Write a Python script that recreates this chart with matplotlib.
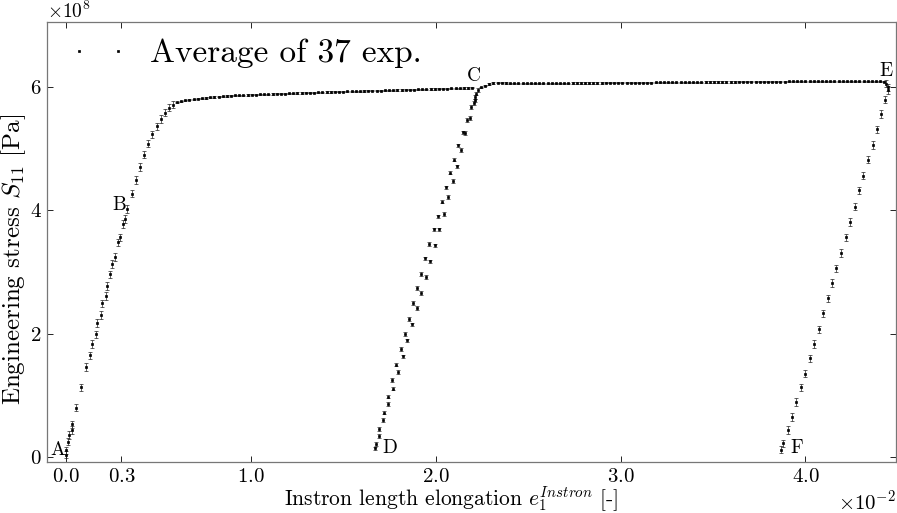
import matplotlib
matplotlib.use("Agg")
import matplotlib.pyplot as plt
from matplotlib.lines import Line2D
from matplotlib.ticker import ScalarFormatter

# strain in units of 1e-2, stress in units of 1e8 Pa
load_x = [0.000, 0.000, 0.012, 0.016, 0.031, 0.034, 0.054, 0.081, 0.108, 0.130,
          0.139, 0.162, 0.170, 0.188, 0.193, 0.215, 0.220, 0.240, 0.247, 0.265,
          0.283, 0.292, 0.310, 0.319, 0.332, 0.355, 0.379, 0.400, 0.424, 0.445,
          0.467, 0.491, 0.514, 0.536, 0.559, 0.581]
load_y = [0.04, 0.11, 0.25, 0.36, 0.44, 0.53, 0.80, 1.13, 1.46, 1.65,
          1.83, 1.99, 2.17, 2.30, 2.49, 2.61, 2.77, 2.96, 3.13, 3.24,
          3.48, 3.56, 3.78, 3.86, 4.02, 4.27, 4.49, 4.70, 4.90, 5.08,
          5.23, 5.36, 5.48, 5.58, 5.66, 5.71]

plat1_x = [0.600, 0.622, 0.645, 0.667, 0.690, 0.712, 0.735, 0.757, 0.780, 0.802,
           0.825, 0.847, 0.870, 0.892, 0.915, 0.937, 0.960, 0.982, 1.005, 1.027,
           1.050, 1.072, 1.095, 1.117, 1.140, 1.162, 1.185, 1.207, 1.230, 1.252,
           1.275, 1.297, 1.320, 1.342, 1.365, 1.387, 1.410, 1.432, 1.455, 1.477,
           1.500, 1.522, 1.545, 1.567, 1.590, 1.612, 1.635, 1.657, 1.680, 1.702,
           1.725, 1.747, 1.770, 1.792, 1.815, 1.837, 1.860, 1.882, 1.905, 1.927,
           1.950, 1.972, 1.995, 2.017, 2.040, 2.062, 2.085, 2.107, 2.130, 2.152,
           2.175, 2.197]
plat1_y = [5.75, 5.765, 5.78, 5.79, 5.80, 5.81, 5.815, 5.82, 5.83, 5.835,
           5.84, 5.845, 5.85, 5.855, 5.86, 5.862, 5.865, 5.868, 5.87, 5.873,
           5.876, 5.878, 5.88, 5.883, 5.886, 5.888, 5.89, 5.893, 5.896, 5.898,
           5.90, 5.902, 5.905, 5.907, 5.91, 5.912, 5.914, 5.916, 5.918, 5.92,
           5.922, 5.924, 5.926, 5.928, 5.93, 5.932, 5.934, 5.936, 5.938, 5.94,
           5.942, 5.944, 5.946, 5.948, 5.95, 5.952, 5.954, 5.956, 5.958, 5.96,
           5.962, 5.964, 5.966, 5.968, 5.97, 5.972, 5.974, 5.976, 5.978, 5.98,
           5.982, 5.985]

unload1_x = [2.219, 2.213, 2.209, 2.192, 2.168, 2.147, 2.123, 2.101, 2.078, 2.056,
             2.033, 2.011, 1.988, 1.966, 1.943, 1.921, 1.898, 1.876, 1.856, 1.831,
             1.811, 1.786, 1.762, 1.741, 1.721, 1.695, 1.676]
unload1_y = [5.89, 5.83, 5.74, 5.67, 5.46, 5.26, 5.05, 4.82, 4.61, 4.37,
             4.14, 3.90, 3.69, 3.45, 3.22, 2.97, 2.74, 2.50, 2.24, 2.00,
             1.75, 1.50, 1.25, 0.98, 0.72, 0.45, 0.21]

reload_x = [1.672, 1.694, 1.717, 1.744, 1.771, 1.798, 1.822, 1.847, 1.871, 1.898,
            1.919, 1.946, 1.970, 1.997, 2.018, 2.042, 2.065, 2.093, 2.114, 2.135,
            2.160, 2.187, 2.215, 2.230]
reload_y = [0.14, 0.34, 0.60, 0.86, 1.11, 1.38, 1.63, 1.89, 2.15, 2.41,
            2.66, 2.92, 3.17, 3.43, 3.69, 3.94, 4.21, 4.47, 4.71, 4.98,
            5.25, 5.49, 5.78, 5.95]

plat2_x = [2.245, 2.267, 2.290, 2.312, 2.335, 2.357, 2.380, 2.402, 2.425, 2.447,
           2.470, 2.492, 2.515, 2.537, 2.560, 2.582, 2.605, 2.627, 2.650, 2.672,
           2.695, 2.717, 2.740, 2.762, 2.785, 2.807, 2.830, 2.852, 2.875, 2.897,
           2.920, 2.942, 2.965, 2.987, 3.010, 3.032, 3.055, 3.077, 3.100, 3.122,
           3.145, 3.167, 3.190, 3.212, 3.235, 3.257, 3.280, 3.302, 3.325, 3.347,
           3.370, 3.392, 3.415, 3.437, 3.460, 3.482, 3.505, 3.527, 3.550, 3.572,
           3.595, 3.617, 3.640, 3.662, 3.685, 3.707, 3.730, 3.752, 3.775, 3.797,
           3.820, 3.842, 3.865, 3.887, 3.910, 3.932, 3.955, 3.977, 4.000, 4.022,
           4.045, 4.067, 4.090, 4.112, 4.135, 4.157, 4.180, 4.202, 4.225, 4.247,
           4.270, 4.292, 4.315, 4.337, 4.360, 4.382, 4.405, 4.427]
plat2_y = [5.99, 6.02, 6.045, 6.06, 6.065, 6.065, 6.06, 6.058, 6.056, 6.055,
           6.055, 6.055, 6.055, 6.055, 6.056, 6.056, 6.057, 6.057, 6.058, 6.058,
           6.059, 6.059, 6.06, 6.06, 6.061, 6.061, 6.062, 6.062, 6.063, 6.063,
           6.064, 6.064, 6.065, 6.065, 6.066, 6.066, 6.067, 6.067, 6.068, 6.068,
           6.069, 6.069, 6.07, 6.07, 6.071, 6.071, 6.072, 6.072, 6.073, 6.073,
           6.074, 6.074, 6.075, 6.075, 6.076, 6.076, 6.077, 6.077, 6.078, 6.078,
           6.079, 6.079, 6.08, 6.08, 6.081, 6.081, 6.082, 6.082, 6.083, 6.083,
           6.084, 6.084, 6.085, 6.085, 6.086, 6.086, 6.087, 6.087, 6.088, 6.088,
           6.089, 6.089, 6.09, 6.09, 6.09, 6.09, 6.09, 6.09, 6.09, 6.09,
           6.09, 6.09, 6.09, 6.09, 6.09, 6.09, 6.09, 6.085]

unload2_x = [4.437, 4.444, 4.444, 4.432, 4.408, 4.387, 4.363, 4.338, 4.314, 4.291,
             4.266, 4.242, 4.219, 4.192, 4.167, 4.143, 4.120, 4.095, 4.071, 4.044,
             4.022, 3.999, 3.976, 3.950, 3.927, 3.903, 3.878, 3.867]
unload2_y = [6.05, 5.99, 5.95, 5.79, 5.56, 5.31, 5.06, 4.82, 4.56, 4.32,
             4.06, 3.81, 3.56, 3.31, 3.06, 2.82, 2.57, 2.33, 2.07, 1.83,
             1.60, 1.35, 1.13, 0.89, 0.65, 0.44, 0.22, 0.12]

# scatter of the 37 experiments (approx. half-width, 1e8 Pa)
segments = [
    (load_x, load_y, 0.06),
    (plat1_x, plat1_y, 0.01),
    (unload1_x, unload1_y, 0.03),
    (reload_x, reload_y, 0.03),
    (plat2_x, plat2_y, 0.01),
    (unload2_x, unload2_y, 0.06),
]

point_labels = ["A", "B", "C", "D", "E", "F"]
label_x = [-0.087, 0.249, 2.17, 1.714, 4.40, 3.918]
label_y = [0.03, 4.0, 6.10, 0.065, 6.18, 0.07]

plt.rcParams['font.family'] = ['cmr10', 'DejaVu Serif']
plt.rcParams['mathtext.fontset'] = 'cm'
plt.rcParams['axes.unicode_minus'] = False
plt.rcParams['axes.formatter.use_mathtext'] = True

fig = plt.figure(figsize=(8.97, 5.13), dpi=100)
# axes box: x 47..896 px, y 22..462 px
ax = fig.add_axes([0.0524, 0.0994, 0.9465, 0.8577])

for xs, ys, err in segments:
    ax.errorbar([v * 1e-2 for v in xs], [v * 1e8 for v in ys],
                yerr=err * 1e8, fmt='s', ms=1.6, mew=0.5, color='black',
                mec='black', ecolor='#222222', elinewidth=0.5,
                capsize=1.2, capthick=0.5)

for lab, lx, ly in zip(point_labels, label_x, label_y):
    ax.text(lx * 1e-2, ly * 1e8, lab, fontsize=14, ha='left', va='baseline')

ax.set_xlim(-0.00103, 0.0449)
ax.set_ylim(-0.08e8, 7.05e8)
ax.set_xticks([0.0, 0.003, 0.01, 0.02, 0.03, 0.04])
ax.set_yticks([0, 2e8, 4e8, 6e8])
xfmt = ScalarFormatter(useMathText=True)
xfmt.set_powerlimits((-2, -2))
ax.xaxis.set_major_formatter(xfmt)
yfmt = ScalarFormatter(useMathText=True)
yfmt.set_powerlimits((8, 8))
ax.yaxis.set_major_formatter(yfmt)

ax.tick_params(direction='in', top=True, right=True, length=4, width=0.6,
               labelsize=15, colors='black', pad=4)
ax.xaxis.get_offset_text().set_fontsize(15)
ax.yaxis.get_offset_text().set_fontsize(14)
for sp in ax.spines.values():
    sp.set_color('#777777')
    sp.set_linewidth(0.9)

ax.set_xlabel(r'Instron length elongation $e_1^{Instron}$ [-]', fontsize=15.5)
ax.xaxis.set_label_coords(0.476, -0.052)
ax.set_ylabel(r'Engineering stress $S_{11}$ [Pa]', fontsize=18)
ax.yaxis.set_label_coords(-0.022, 0.46)

handle = Line2D([], [], linestyle='none', marker='s', ms=1.6, mew=0.5, color='black')
ax.legend([handle], ['Average of 37 exp.'], loc='upper left', numpoints=2,
          frameon=False, fontsize=24, handlelength=1.77, handletextpad=0.66,
          borderpad=0, borderaxespad=0, bbox_to_anchor=(0.026, 0.962))

fig.savefig('out.png', dpi=100)
